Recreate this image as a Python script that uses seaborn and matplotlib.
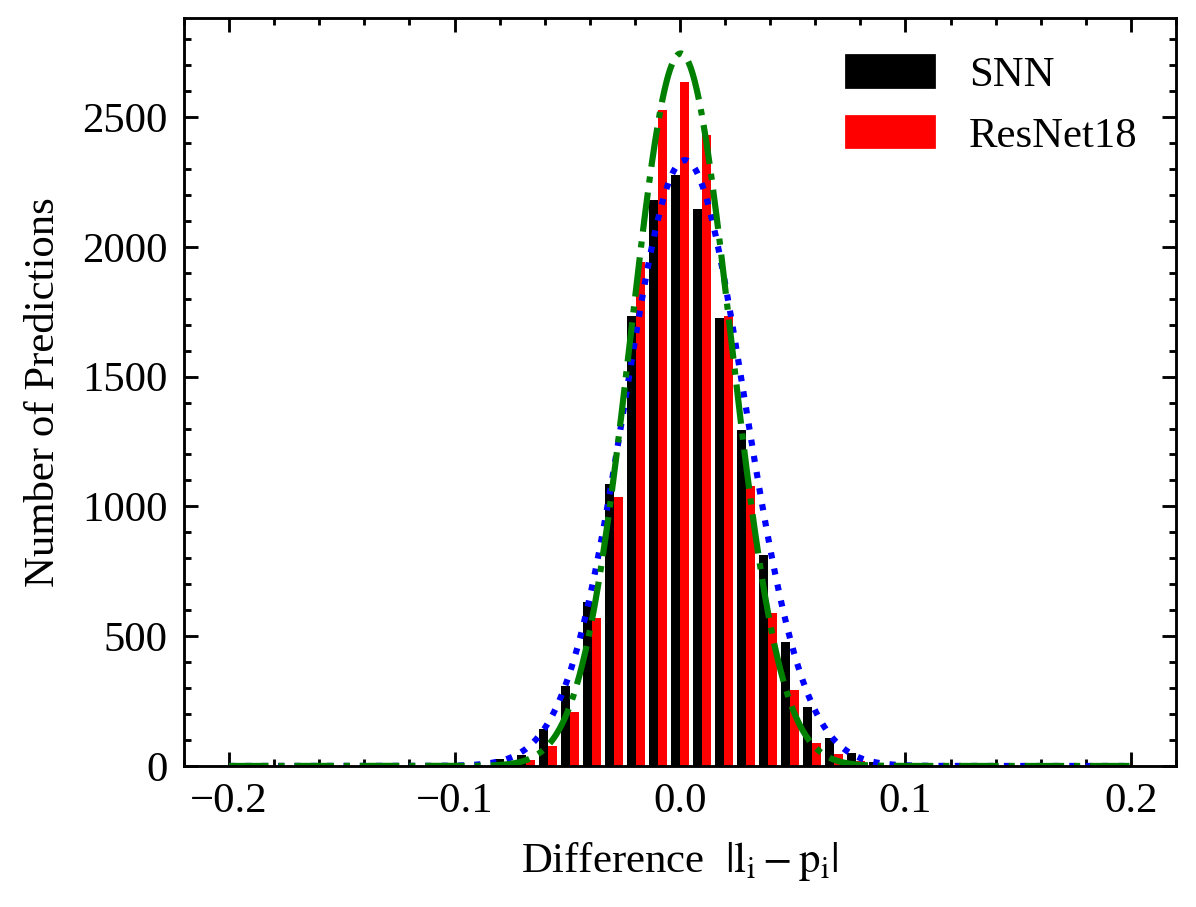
import numpy as np
import pandas as pd
import matplotlib
matplotlib.use('Agg')
import matplotlib.pyplot as plt
from matplotlib.patches import Patch
from matplotlib.ticker import AutoMinorLocator
import seaborn as sns

# 41 equal bins over [-0.2, 0.2]
bin_lo, bin_hi, n_bins = -0.2, 0.2, 41

# counts per bin
snn_counts = [0, 0, 0, 0, 0, 0, 0, 0, 0, 0,
              0, 3, 25, 44, 142, 308, 630, 1087, 1735, 2180,
              2277, 2146, 1725, 1294, 813, 478, 229, 107, 51, 16,
              3, 0, 0, 0, 0, 0, 0, 0, 0, 0,
              0]
resnet_counts = [0, 0, 0, 0, 0, 0, 0, 0, 0, 0,
                 0, 0, 6, 22, 77, 209, 569, 1036, 1940, 2527,
                 2635, 2431, 1735, 1079, 588, 293, 89, 47, 20, 5,
                 0, 0, 0, 0, 0, 0, 0, 0, 0, 0,
                 0]
models = ['SNN', 'ResNet18']
colors = {'SNN': 'black', 'ResNet18': 'red'}

# gaussian fits drawn on top (peak, mean, sigma)
snn_fit = (2334, 0.0022, 0.0264)
resnet_fit = (2745, 0.0003, 0.0221)

sns.set_style('ticks')
plt.rcParams['font.family'] = ['Liberation Serif', 'DejaVu Serif']
plt.rcParams['mathtext.fontset'] = 'stix'
plt.rcParams['font.size'] = 9.0
plt.rcParams['text.color'] = 'black'
plt.rcParams['axes.labelcolor'] = 'black'
plt.rcParams['axes.edgecolor'] = 'black'
plt.rcParams['axes.linewidth'] = 0.6
for a in ('xtick', 'ytick'):
    plt.rcParams[a + '.direction'] = 'in'
    plt.rcParams[a + '.major.size'] = 3
    plt.rcParams[a + '.minor.size'] = 1.5
    plt.rcParams[a + '.major.width'] = 0.6
    plt.rcParams[a + '.minor.width'] = 0.6
    plt.rcParams[a + '.minor.visible'] = True
    plt.rcParams[a + '.color'] = 'black'
    plt.rcParams[a + '.labelcolor'] = 'black'
plt.rcParams['xtick.top'] = True
plt.rcParams['ytick.right'] = True

edges = np.linspace(bin_lo, bin_hi, n_bins + 1)
centers = (edges[:-1] + edges[1:]) / 2
df = pd.DataFrame({
    'diff': np.concatenate([centers, centers]),
    'count': snn_counts + resnet_counts,
    'model': ['SNN'] * n_bins + ['ResNet18'] * n_bins,
})

fig = plt.figure(figsize=(3.5, 2.6545), dpi=341.72)
ax = fig.add_axes([0.1538, 0.1555, 0.8295, 0.8247])

sns.histplot(data=df, x='diff', weights='count', hue='model', hue_order=models,
             bins=n_bins, binrange=(bin_lo, bin_hi), multiple='dodge', shrink=0.8,
             palette=colors, alpha=1, linewidth=0, legend=False, ax=ax)

xs = np.linspace(bin_lo, bin_hi, 1200)
for (peak, mu, sig), col, ls in [(snn_fit, 'blue', ':'), (resnet_fit, 'green', '-.')]:
    ys = peak * np.exp(-0.5 * ((xs - mu) / sig) ** 2)
    sns.lineplot(x=xs, y=ys, color=col, linestyle=ls, linewidth=1.3, ax=ax)

ax.set_xlim(-0.22, 0.22)
ax.set_ylim(bottom=0)
ax.xaxis.set_minor_locator(AutoMinorLocator(5))
ax.yaxis.set_minor_locator(AutoMinorLocator(5))
ax.set_xlabel(r'Difference  $|\mathrm{l_i - p_i}|$')
ax.set_ylabel('Number of Predictions')
for s in ax.spines.values():
    s.set_visible(True)
    s.set_linewidth(0.6)

handles = [Patch(color=colors[m], label=m) for m in models]
ax.legend(handles=handles, loc='upper right', frameon=False,
          handlelength=2.0, handletextpad=0.85)

fig.savefig('out.png', dpi=341.72)
